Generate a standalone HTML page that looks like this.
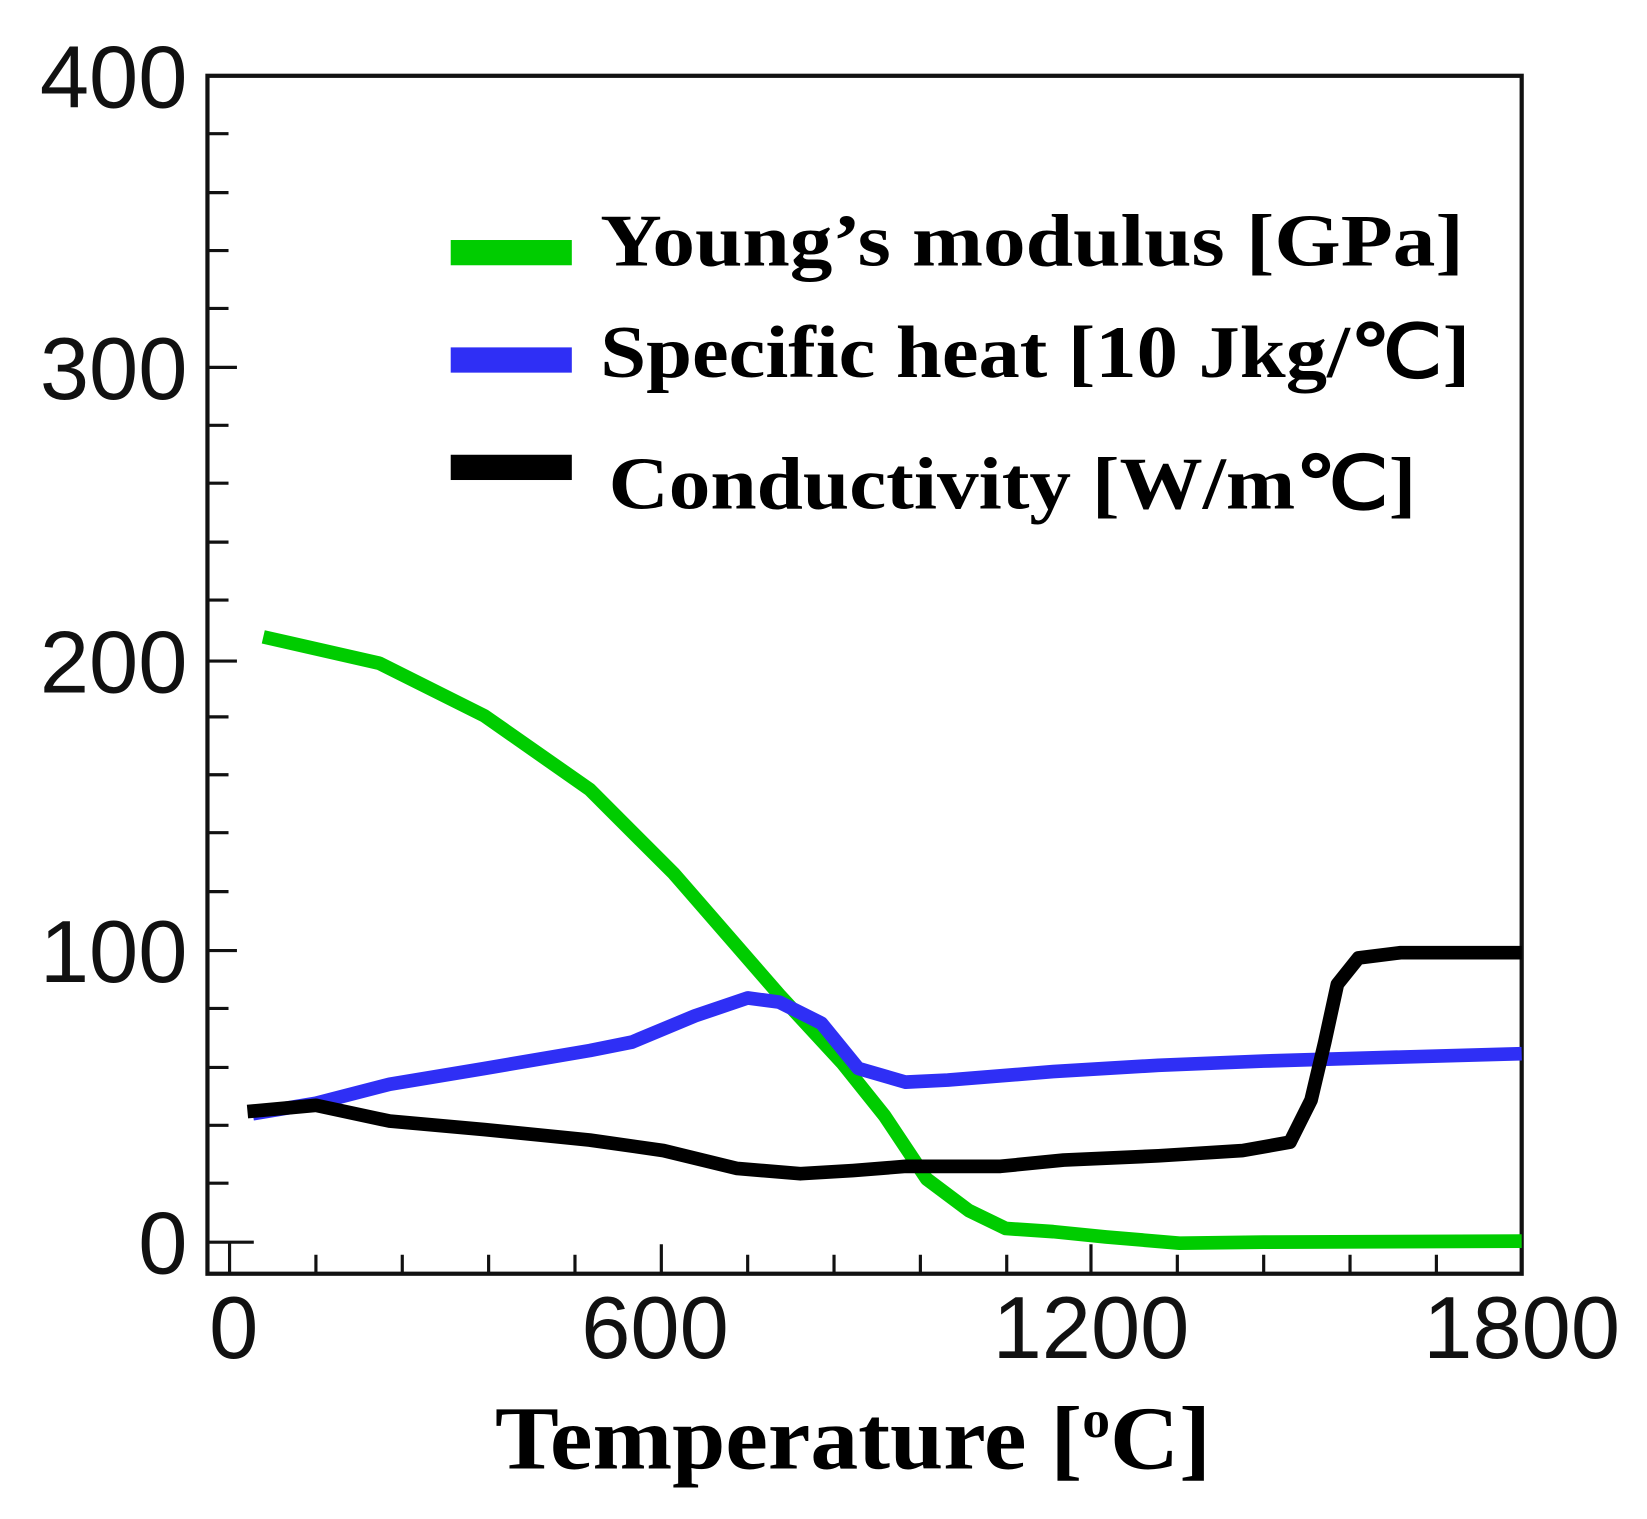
<!DOCTYPE html>
<html><head><style>html,body{margin:0;padding:0;background:#fff}svg{display:block}</style></head>
<body>
<svg width="1647" height="1519" viewBox="0 0 1564 1443" preserveAspectRatio="none" xmlns="http://www.w3.org/2000/svg">
<rect width="1564" height="1443" fill="#fff"/>
<g stroke="#111" stroke-width="3" fill="none">
<rect x="197" y="72" width="1248" height="1138" stroke-width="4"/>
<!-- y minor ticks -->
<path d="M197 127h20M197 183h20M197 238h20M197 293h20M197 404h20M197 459h20M197 515h20M197 570h20M197 681h20M197 736h20M197 791h20M197 847h20M197 958h20M197 1014h20M197 1069h20M197 1124h20"/>
<path d="M197 349h28M197 628h28M197 903h28M197 1180h44M218 1180V1210"/>
<!-- x ticks -->
<path d="M300 1210v-18M382 1210v-18M464 1210v-18M546 1210v-18M710 1210v-18M792 1210v-18M874 1210v-18M956 1210v-18M1118 1210v-18M1200 1210v-18M1282 1210v-18M1364 1210v-18M628 1210v-28M1036 1210v-28"/>
</g>
<g font-family="Liberation Sans, sans-serif" font-size="84" fill="#111">
<text x="178" y="102" text-anchor="end">400</text>
<text x="178" y="379" text-anchor="end">300</text>
<text x="178" y="658" text-anchor="end">200</text>
<text x="178" y="933" text-anchor="end">100</text>
<text x="178" y="1210" text-anchor="end">0</text>
<text x="222" y="1290" text-anchor="middle">0</text>
<text x="622" y="1290" text-anchor="middle">600</text>
<text x="1036" y="1290" text-anchor="middle">1200</text>
<text x="1445" y="1290" text-anchor="middle">1800</text>
</g>
<g fill="none" stroke-linejoin="round" stroke-linecap="butt" stroke-width="13">
<polyline stroke="#00cc00" points="250,605 360,630 460,680 560,750 640,830 740,945 800,1010 840,1060 880,1120 920,1150 955,1167 1000,1170 1050,1175 1120,1181 1200,1180 1445,1179"/>
<polyline stroke="#2f2ff5" points="240,1058 300,1048 370,1030 460,1015 560,998 600,990 660,965 710,948 740,952 780,972 815,1015 860,1028 900,1026 1000,1018 1100,1012 1200,1008 1300,1005 1445,1001"/>
<polyline stroke="#000" points="235,1056 300,1050 370,1065 460,1073 560,1083 630,1093 700,1110 760,1115 810,1112 860,1108 950,1108 1010,1102 1100,1098 1180,1093 1225,1085 1245,1045 1258,990 1270,935 1290,910 1330,905 1445,905"/>
</g>
<rect x="428" y="228" width="115" height="24" fill="#00cc00"/>
<rect x="428" y="330" width="115" height="24" fill="#2f2ff5"/>
<rect x="428" y="432" width="115" height="24" fill="#000"/>
<g font-family="Liberation Serif, serif" font-weight="bold" fill="#000" font-size="70">
<text x="570" y="252" textLength="820" lengthAdjust="spacingAndGlyphs">Young’s modulus [GPa]</text>
<text x="570" y="358" textLength="826" lengthAdjust="spacingAndGlyphs">Specific heat [10 Jkg/℃]</text>
<text x="578" y="483" textLength="767" lengthAdjust="spacingAndGlyphs">Conductivity [W/m℃]</text>
<text x="470" y="1395" font-size="86" textLength="680" lengthAdjust="spacingAndGlyphs">Temperature [<tspan font-size="50" dy="-30">o</tspan><tspan dy="30">C]</tspan></text>
</g>
</svg>
</body></html>
